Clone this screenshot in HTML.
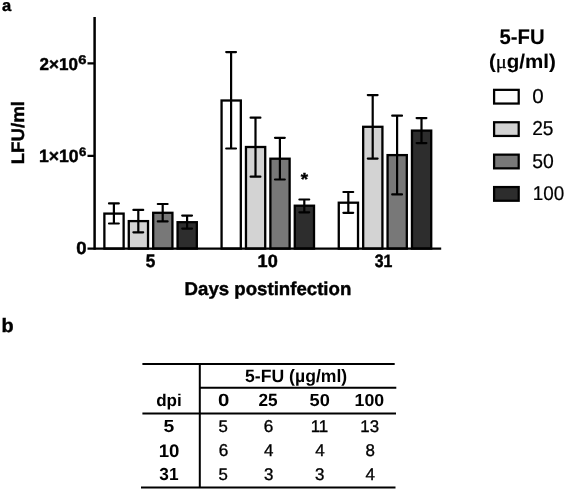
<!DOCTYPE html>
<html><head><meta charset="utf-8"><style>
html,body{margin:0;padding:0;background:#fff;}
body{width:566px;height:491px;overflow:hidden;}
svg{display:block;}
text{font-family:"Liberation Sans",Arial,sans-serif;fill:#000;text-rendering:geometricPrecision;}
</style></head><body>
<svg width="566" height="491" viewBox="0 0 566 491">
<rect x="104.38" y="213.60" width="19.25" height="35.00" fill="#ffffff" stroke="#000" stroke-width="2.3"/>
<rect x="128.78" y="221.10" width="19.25" height="27.50" fill="#d3d3d3" stroke="#000" stroke-width="2.3"/>
<rect x="153.18" y="212.80" width="19.25" height="35.80" fill="#787878" stroke="#000" stroke-width="2.3"/>
<rect x="177.57" y="222.20" width="19.25" height="26.40" fill="#2d2d2d" stroke="#000" stroke-width="2.3"/>
<rect x="221.57" y="100.50" width="19.25" height="148.10" fill="#ffffff" stroke="#000" stroke-width="2.3"/>
<rect x="245.97" y="147.00" width="19.25" height="101.60" fill="#d3d3d3" stroke="#000" stroke-width="2.3"/>
<rect x="270.38" y="158.70" width="19.25" height="89.90" fill="#787878" stroke="#000" stroke-width="2.3"/>
<rect x="294.77" y="205.70" width="19.25" height="42.90" fill="#2d2d2d" stroke="#000" stroke-width="2.3"/>
<rect x="338.77" y="202.70" width="19.25" height="45.90" fill="#ffffff" stroke="#000" stroke-width="2.3"/>
<rect x="363.17" y="126.80" width="19.25" height="121.80" fill="#d3d3d3" stroke="#000" stroke-width="2.3"/>
<rect x="387.57" y="155.10" width="19.25" height="93.50" fill="#787878" stroke="#000" stroke-width="2.3"/>
<rect x="411.97" y="130.60" width="19.25" height="118.00" fill="#2d2d2d" stroke="#000" stroke-width="2.3"/>
<path d="M113.90 203.40V223.50M109.00 203.40H118.80M109.00 223.50H118.80" stroke="#000" stroke-width="2.2" stroke-linecap="round" fill="none"/>
<path d="M138.30 209.90V232.30M133.40 209.90H143.20M133.40 232.30H143.20" stroke="#000" stroke-width="2.2" stroke-linecap="round" fill="none"/>
<path d="M162.70 204.00V221.40M157.80 204.00H167.60M157.80 221.40H167.60" stroke="#000" stroke-width="2.2" stroke-linecap="round" fill="none"/>
<path d="M187.10 215.60V228.60M182.20 215.60H192.00M182.20 228.60H192.00" stroke="#000" stroke-width="2.2" stroke-linecap="round" fill="none"/>
<path d="M231.10 52.10V148.50M226.20 52.10H236.00M226.20 148.50H236.00" stroke="#000" stroke-width="2.2" stroke-linecap="round" fill="none"/>
<path d="M255.50 117.70V176.70M250.60 117.70H260.40M250.60 176.70H260.40" stroke="#000" stroke-width="2.2" stroke-linecap="round" fill="none"/>
<path d="M279.90 137.80V179.50M275.00 137.80H284.80M275.00 179.50H284.80" stroke="#000" stroke-width="2.2" stroke-linecap="round" fill="none"/>
<path d="M304.30 199.50V212.30M299.40 199.50H309.20M299.40 212.30H309.20" stroke="#000" stroke-width="2.2" stroke-linecap="round" fill="none"/>
<path d="M348.30 192.00V212.80M343.40 192.00H353.20M343.40 212.80H353.20" stroke="#000" stroke-width="2.2" stroke-linecap="round" fill="none"/>
<path d="M372.70 95.10V158.60M367.80 95.10H377.60M367.80 158.60H377.60" stroke="#000" stroke-width="2.2" stroke-linecap="round" fill="none"/>
<path d="M397.10 115.70V194.40M392.20 115.70H402.00M392.20 194.40H402.00" stroke="#000" stroke-width="2.2" stroke-linecap="round" fill="none"/>
<path d="M421.50 118.10V143.10M416.60 118.10H426.40M416.60 143.10H426.40" stroke="#000" stroke-width="2.2" stroke-linecap="round" fill="none"/>
<rect x="494.1" y="89.85" width="24.6" height="13.7" fill="#ffffff" stroke="#000" stroke-width="2.25"/>
<rect x="494.1" y="122.25" width="24.6" height="13.7" fill="#d3d3d3" stroke="#000" stroke-width="2.25"/>
<rect x="494.1" y="154.65" width="24.6" height="13.7" fill="#787878" stroke="#000" stroke-width="2.25"/>
<rect x="494.1" y="187.05" width="24.6" height="13.7" fill="#2d2d2d" stroke="#000" stroke-width="2.25"/>
<path d="M94.6 17V249.7" stroke="#000" stroke-width="2.5" fill="none"/>
<path d="M87.5 248.6H441.2" stroke="#000" stroke-width="2.2" fill="none"/>
<path d="M87.5 63.4H94.6M87.5 155.9H94.6" stroke="#000" stroke-width="2.2" fill="none"/>
<path d="M142.4 364H394.7M199.8 387.8H396.3M142.4 413.4H396M141 487.6H395.5M199.8 363V488.6" stroke="#000" stroke-width="2" fill="none"/>
<text x="0" y="0" style="font-size:19.5px;font-weight:bold;stroke:#000;stroke-width:0.45px;" transform="matrix(0.8519 0 0 0.8512 1.976 11.426)">a</text>
<text x="0" y="0" style="font-size:19.5px;font-weight:bold;stroke:#000;stroke-width:0.45px;" transform="matrix(1.0163 0 0 0.9875 1.486 331.773)">b</text>
<text x="0" y="0" style="font-size:17.3px;font-weight:bold;stroke:#000;stroke-width:0.45px;" transform="matrix(0.9860 0 0 0.9989 39.541 69.899)">2×10</text>
<text x="0" y="0" style="font-size:13px;font-weight:bold;stroke:#000;stroke-width:0.45px;" transform="matrix(1.1361 0 0 0.9675 78.366 63.555)">6</text>
<text x="0" y="0" style="font-size:17.3px;font-weight:bold;stroke:#000;stroke-width:0.45px;" transform="matrix(1.0171 0 0 1.0252 38.897 162.485)">1×10</text>
<text x="0" y="0" style="font-size:13px;font-weight:bold;stroke:#000;stroke-width:0.45px;" transform="matrix(1.0132 0 0 0.9413 79.002 156.064)">6</text>
<text x="0" y="0" style="font-size:17.5px;font-weight:bold;stroke:#000;stroke-width:0.45px;" transform="matrix(1.0592 0 0 1.0114 76.172 254.288)">0</text>
<text x="0" y="0" style="font-size:19.4px;font-weight:bold;stroke:#000;stroke-width:0.45px;" transform="matrix(0.9276 0 0 0.9643 24.128 164.366) rotate(-90)">LFU/ml</text>
<text x="0" y="0" style="font-size:17.3px;font-weight:bold;stroke:#000;stroke-width:0.45px;" transform="matrix(1.0874 0 0 1.0072 300.708 184.786)">*</text>
<text x="0" y="0" style="font-size:17.5px;font-weight:bold;stroke:#000;stroke-width:0.45px;" transform="matrix(0.9816 0 0 1.0320 145.684 266.673)">5</text>
<text x="0" y="0" style="font-size:17.5px;font-weight:bold;stroke:#000;stroke-width:0.45px;" transform="matrix(1.0350 0 0 1.0109 257.556 266.509)">10</text>
<text x="0" y="0" style="font-size:17.5px;font-weight:bold;stroke:#000;stroke-width:0.45px;" transform="matrix(0.9057 0 0 1.0270 374.733 266.616)">31</text>
<text x="0" y="0" style="font-size:19.6px;font-weight:bold;stroke:#000;stroke-width:0.45px;" transform="matrix(0.9513 0 0 0.9449 184.557 294.583)">Days postinfection</text>
<text x="0" y="0" style="font-size:20px;font-weight:bold;stroke:#000;stroke-width:0.1px;" transform="matrix(1.0157 0 0 1.0595 499.423 43.851)">5-FU</text>
<text x="0" y="0" style="font-size:20px;font-weight:bold;stroke:#000;stroke-width:0.1px;" transform="matrix(1.0278 0 0 0.9761 488.896 68.044)">(<tspan style="font-family:'Liberation Serif',serif;font-weight:normal;stroke-width:0.3px">μ</tspan>g/ml)</text>
<text x="0" y="0" style="font-size:19.5px;stroke:#000;stroke-width:0.2px;" transform="matrix(1.0552 0 0 1.0328 532.205 102.679)">0</text>
<text x="0" y="0" style="font-size:19.5px;stroke:#000;stroke-width:0.2px;" transform="matrix(0.9851 0 0 1.0343 532.176 134.979)">25</text>
<text x="0" y="0" style="font-size:19.5px;stroke:#000;stroke-width:0.2px;" transform="matrix(0.9935 0 0 1.0326 532.220 167.503)">50</text>
<text x="0" y="0" style="font-size:19.5px;stroke:#000;stroke-width:0.2px;" transform="matrix(0.9687 0 0 1.0178 532.781 199.803)">100</text>
<text x="0" y="0" style="font-size:17.5px;font-weight:bold;" transform="matrix(1.0067 0 0 1.0202 245.074 381.891)">5-FU (µg/ml)</text>
<text x="0" y="0" style="font-size:17.5px;font-weight:bold;" transform="matrix(0.9755 0 0 0.9765 156.189 406.154)">dpi</text>
<text x="0" y="0" style="font-size:17px;font-weight:bold;" transform="matrix(1.2018 0 0 1.0429 217.947 406.375)">0</text>
<text x="0" y="0" style="font-size:17px;font-weight:bold;" transform="matrix(1.0119 0 0 1.0422 258.493 406.428)">25</text>
<text x="0" y="0" style="font-size:17px;font-weight:bold;" transform="matrix(1.0737 0 0 1.0213 309.542 406.484)">50</text>
<text x="0" y="0" style="font-size:17px;font-weight:bold;" transform="matrix(1.0450 0 0 1.0210 354.557 406.480)">100</text>
<text x="0" y="0" style="font-size:17px;font-weight:bold;" transform="matrix(1.1385 0 0 1.0213 163.396 432.384)">5</text>
<text x="0" y="0" style="font-size:17px;font-weight:bold;" transform="matrix(1.0969 0 0 1.0640 158.720 456.515)">10</text>
<text x="0" y="0" style="font-size:17px;font-weight:bold;" transform="matrix(1.0173 0 0 1.0294 159.306 480.078)">31</text>
<text x="0" y="0" style="font-size:17px;stroke:#000;stroke-width:0.35px;" transform="matrix(0.9870 0 0 0.9870 218.540 432.325)">5</text>
<text x="0" y="0" style="font-size:17px;stroke:#000;stroke-width:0.35px;" transform="matrix(1.0070 0 0 1.0070 263.871 432.392)">6</text>
<text x="0" y="0" style="font-size:17px;stroke:#000;stroke-width:0.35px;" transform="matrix(0.9973 0 0 0.9973 310.680 432.450)">11</text>
<text x="0" y="0" style="font-size:17px;stroke:#000;stroke-width:0.35px;" transform="matrix(0.9870 0 0 0.9870 360.342 432.294)">13</text>
<text x="0" y="0" style="font-size:17px;stroke:#000;stroke-width:0.35px;" transform="matrix(1.0070 0 0 1.0070 218.671 456.392)">6</text>
<text x="0" y="0" style="font-size:17px;stroke:#000;stroke-width:0.35px;" transform="matrix(0.9985 0 0 0.9985 264.054 456.449)">4</text>
<text x="0" y="0" style="font-size:17px;stroke:#000;stroke-width:0.35px;" transform="matrix(0.9985 0 0 0.9985 315.154 456.449)">4</text>
<text x="0" y="0" style="font-size:17px;stroke:#000;stroke-width:0.35px;" transform="matrix(0.9931 0 0 0.9931 365.393 456.291)">8</text>
<text x="0" y="0" style="font-size:17px;stroke:#000;stroke-width:0.35px;" transform="matrix(0.9870 0 0 0.9870 218.540 480.025)">5</text>
<text x="0" y="0" style="font-size:17px;stroke:#000;stroke-width:0.35px;" transform="matrix(0.9953 0 0 0.9953 264.000 480.017)">3</text>
<text x="0" y="0" style="font-size:17px;stroke:#000;stroke-width:0.35px;" transform="matrix(0.9953 0 0 0.9953 315.100 480.017)">3</text>
<text x="0" y="0" style="font-size:17px;stroke:#000;stroke-width:0.35px;" transform="matrix(0.9985 0 0 0.9985 365.454 480.149)">4</text>
</svg>
</body></html>
